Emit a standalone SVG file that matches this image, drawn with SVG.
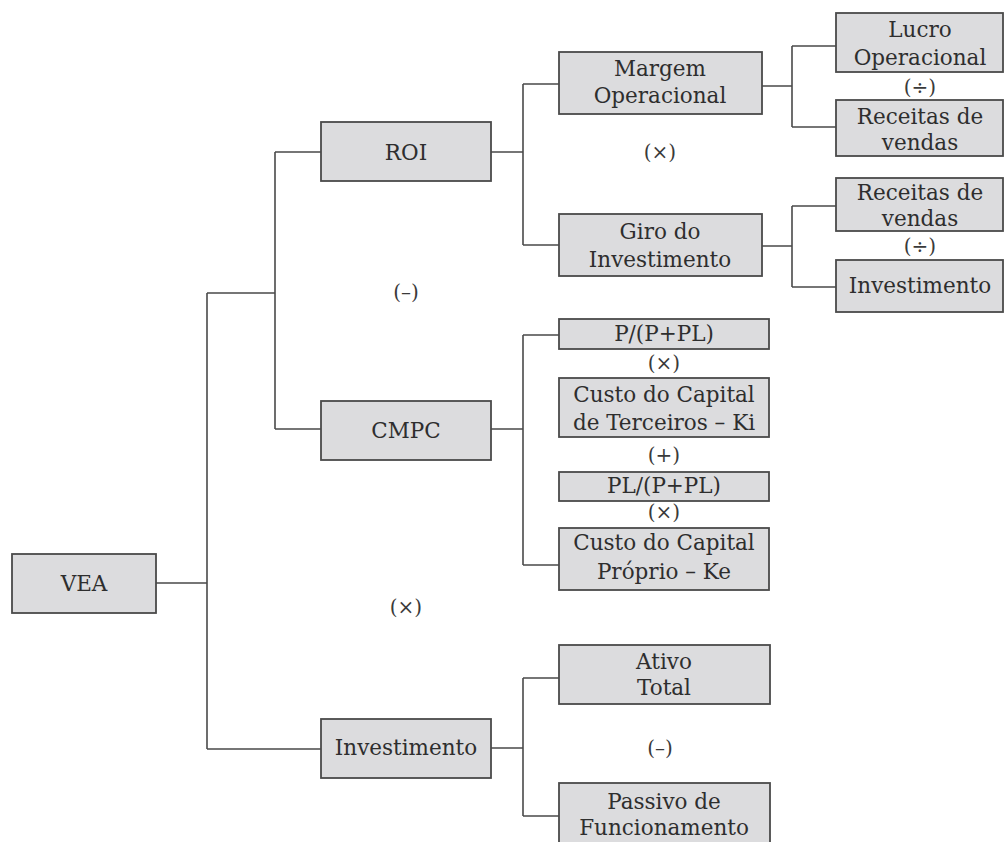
<svg xmlns="http://www.w3.org/2000/svg" width="1005" height="842" viewBox="0 0 1005 842">
<style>
.box{fill:#dcdcde;stroke:#4a4a4a;stroke-width:1.8}
.t{font-family:"DejaVu Serif","Liberation Serif",serif;font-size:21.5px;fill:#2e2e2e;text-anchor:middle}
.op{font-family:"DejaVu Serif","Liberation Serif",serif;font-size:20px;fill:#3a3a3a;text-anchor:middle}
.c{fill:none;stroke:#4a4a4a;stroke-width:1.6}
</style>
<rect width="1005" height="842" fill="#fff"/>
<g id="connectors" class="c">
<path d="M156 583H207M207 293V749M207 293H275M275 152V429M275 152H321M275 429H321M207 749H321"/>
<path d="M491 152H523M523 84V245M523 84H559M523 245H559"/>
<path d="M762 86H792M792 46V127M792 46H836M792 127H836"/>
<path d="M762 246H792M792 206V287M792 206H836M792 287H836"/>
<path d="M491 429H523M523 335V565M523 335H559M523 565H559"/>
<path d="M491 748H523M523 678V816M523 678H559M523 816H559"/>
</g>
<g id="vea"><rect class="box" x="12" y="554" width="144" height="59"/><text class="t" x="84" y="591">VEA</text></g>
<g id="roi"><rect class="box" x="321" y="122" width="170" height="59"/><text class="t" x="406" y="160">ROI</text></g>
<g id="cmpc"><rect class="box" x="321" y="401" width="170" height="59"/><text class="t" x="406" y="438">CMPC</text></g>
<g id="investimento"><rect class="box" x="321" y="719" width="170" height="59"/><text class="t" x="406" y="755">Investimento</text></g>
<g id="margem"><rect class="box" x="559" y="52" width="203" height="62"/><text class="t" x="660" y="76">Margem</text><text class="t" x="660" y="103">Operacional</text></g>
<g id="giro"><rect class="box" x="559" y="214" width="203" height="62"/><text class="t" x="660" y="239">Giro do</text><text class="t" x="660" y="267">Investimento</text></g>
<g id="lucro"><rect class="box" x="836" y="13" width="167" height="59"/><text class="t" x="920" y="37">Lucro</text><text class="t" x="920" y="65">Operacional</text></g>
<g id="receitas1"><rect class="box" x="836" y="100" width="167" height="56"/><text class="t" x="920" y="124">Receitas de</text><text class="t" x="920" y="150">vendas</text></g>
<g id="receitas2"><rect class="box" x="836" y="178" width="167" height="53"/><text class="t" x="920" y="200">Receitas de</text><text class="t" x="920" y="226">vendas</text></g>
<g id="investimento2"><rect class="box" x="836" y="260" width="167" height="52"/><text class="t" x="920" y="293">Investimento</text></g>
<g id="p_ppl"><rect class="box" x="559" y="319" width="210" height="30"/><text class="t" x="664" y="341">P/(P+PL)</text></g>
<g id="ki"><rect class="box" x="559" y="378" width="210" height="59"/><text class="t" x="664" y="402">Custo do Capital</text><text class="t" x="664" y="430">de Terceiros – Ki</text></g>
<g id="pl_ppl"><rect class="box" x="559" y="472" width="210" height="29"/><text class="t" x="664" y="493">PL/(P+PL)</text></g>
<g id="ke"><rect class="box" x="559" y="528" width="210" height="62"/><text class="t" x="664" y="550">Custo do Capital</text><text class="t" x="664" y="579">Próprio – Ke</text></g>
<g id="ativo"><rect class="box" x="559" y="645" width="211" height="59"/><text class="t" x="664" y="669">Ativo</text><text class="t" x="664" y="695">Total</text></g>
<g id="passivo"><rect class="box" x="559" y="783" width="211" height="70"/><text class="t" x="664" y="809">Passivo de</text><text class="t" x="664" y="835">Funcionamento</text></g>
<g id="operators">
<text class="op" x="920" y="94">(÷)</text>
<text class="op" x="920" y="253">(÷)</text>
<text class="op" x="660" y="159">(×)</text>
<text class="op" x="406" y="299">(–)</text>
<text class="op" x="664" y="370">(×)</text>
<text class="op" x="664" y="462">(+)</text>
<text class="op" x="664" y="519">(×)</text>
<text class="op" x="406" y="614">(×)</text>
<text class="op" x="660" y="755">(–)</text>
</g>
</svg>
